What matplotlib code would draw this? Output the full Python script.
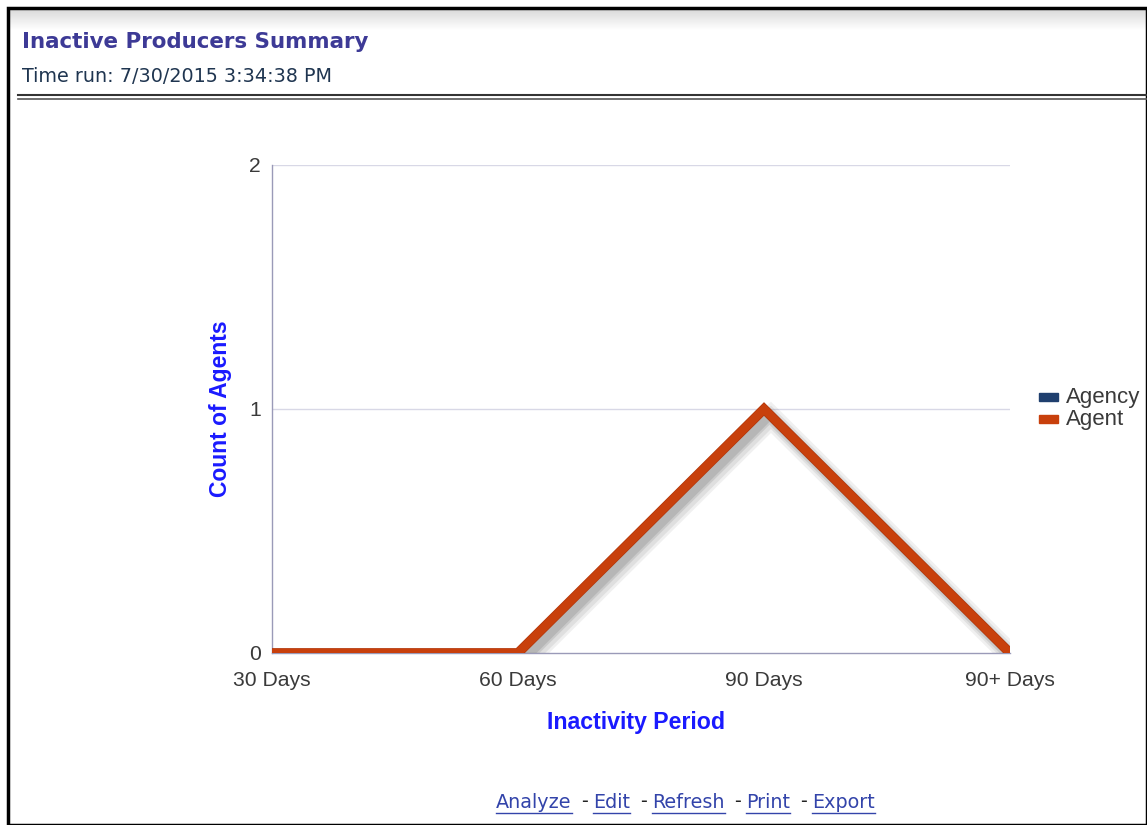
import matplotlib
matplotlib.use("Agg")
import matplotlib.pyplot as plt
import matplotlib.patheffects as pe
from matplotlib.lines import Line2D
from matplotlib.patches import Rectangle
import numpy as np

categories = ["30 Days", "60 Days", "90 Days", "90+ Days"]
agency_values = [np.nan, np.nan, np.nan, np.nan]
agent_values = [0, 0, 1, 0]
series_names = ["Agency", "Agent"]
series_colors = ["#1f3f6e", "#c8400c"]
yticks = [0, 1, 2]

W, H = 1147, 825
fig = plt.figure(figsize=(W / 100, H / 100), dpi=100)

def fx(x):
    return x / W

def fy(y):
    return 1 - y / H

AX_FONT = "Liberation Sans"

# outer frame
fig.add_artist(Rectangle((fx(8), fy(825)), fx(1147 - 8), fy(8) - fy(825),
                         fill=False, edgecolor="black", linewidth=2.5,
                         transform=fig.transFigure))
# header gradient
grad_ax = fig.add_axes([fx(10), fy(30), fx(1137), fy(10) - fy(30)])
grad = np.linspace(0.86, 1.0, 50).reshape(-1, 1)
grad_ax.imshow(np.dstack([grad, grad, grad]), aspect="auto", extent=[0, 1, 0, 1])
grad_ax.axis("off")

fig.text(fx(22), fy(42), "Inactive Producers Summary", fontsize=15.4, fontweight="bold",
         color="#3d3a96", va="center", ha="left", family="DejaVu Sans")
fig.text(fx(22), fy(77), "Time run: 7/30/2015 3:34:38 PM", fontsize=13.8,
         color="#1f3550", va="center", ha="left", family="DejaVu Sans")
fig.add_artist(Line2D([fx(18), 1], [fy(95), fy(95)], color="#333333", lw=1.5,
                      transform=fig.transFigure))
fig.add_artist(Line2D([fx(18), 1], [fy(98.5), fy(98.5)], color="#555555", lw=1.2,
                      transform=fig.transFigure))

ax = fig.add_axes([fx(272), fy(653), fx(1010) - fx(272), fy(165) - fy(653)])
x = np.arange(len(categories))
ax.plot(x, agency_values, color=series_colors[0], lw=5, zorder=3)
shadow = [pe.SimpleLineShadow(offset=(o, -o - 1), shadow_color="#707070", alpha=a, linewidth=w)
          for o, a, w in [(5, 0.10, 16), (5, 0.13, 12), (4, 0.18, 9), (4, 0.22, 6)]]
ax.plot(x, agent_values, color=series_colors[1], lw=6, solid_joinstyle="miter", zorder=4,
        path_effects=shadow + [pe.Stroke(linewidth=7, foreground="#b0360a"), pe.Normal()])
ax.set_xlim(0, len(categories) - 1)
ax.set_ylim(0, 2)
ax.set_yticks(yticks)
ax.set_xticks(x)
ax.set_xticklabels(categories)
ax.tick_params(axis="both", length=0, labelsize=15.2, labelcolor="#3a3a3a")
for lab in ax.get_xticklabels() + ax.get_yticklabels():
    lab.set_family(AX_FONT)
ax.tick_params(axis="y", pad=8)
ax.tick_params(axis="x", pad=13)
for y in yticks[1:]:
    ax.axhline(y, color="#d8d8e6", lw=1, zorder=1)
for s in ["top", "right"]:
    ax.spines[s].set_visible(False)
for s in ["left", "bottom"]:
    ax.spines[s].set_color("#9a9ab8")
    ax.spines[s].set_linewidth(1)
ax.set_ylabel("Count of Agents", color="#1a1aff", fontsize=16.5, fontweight="bold",
              labelpad=12, family=AX_FONT)
fig.text(fx(636), fy(722), "Inactivity Period", color="#1a1aff", fontsize=16.7,
         fontweight="bold", family=AX_FONT, ha="center", va="center")

# legend
for i, (name, col) in enumerate(zip(series_names, series_colors)):
    yy = 397 + i * 22
    fig.add_artist(Rectangle((fx(1039), fy(yy + 4)), fx(19), fy(yy - 4) - fy(yy + 4),
                             color=col, transform=fig.transFigure))
    fig.text(fx(1066), fy(yy), name, fontsize=16, color="#3a3a3a", va="center", ha="left",
             family=AX_FONT)

# footer links
links = ["Analyze", "Edit", "Refresh", "Print", "Export"]
xpos = 496
fig.canvas.draw()
renderer = fig.canvas.get_renderer()
for i, name in enumerate(links):
    t = fig.text(fx(xpos), fy(802), name, fontsize=13.8, color="#3344aa", va="center", ha="left")
    bb = t.get_window_extent(renderer)
    fig.add_artist(Line2D([bb.x0 / W, bb.x1 / W], [fy(813), fy(813)], color="#3344aa", lw=1,
                          transform=fig.transFigure))
    xpos = bb.x1 + 10
    if i < len(links) - 1:
        d = fig.text(fx(xpos), fy(802), "-", fontsize=13.8, color="#222222", va="center", ha="left")
        xpos = d.get_window_extent(renderer).x1 + 5

fig.savefig("out.png", dpi=100)
